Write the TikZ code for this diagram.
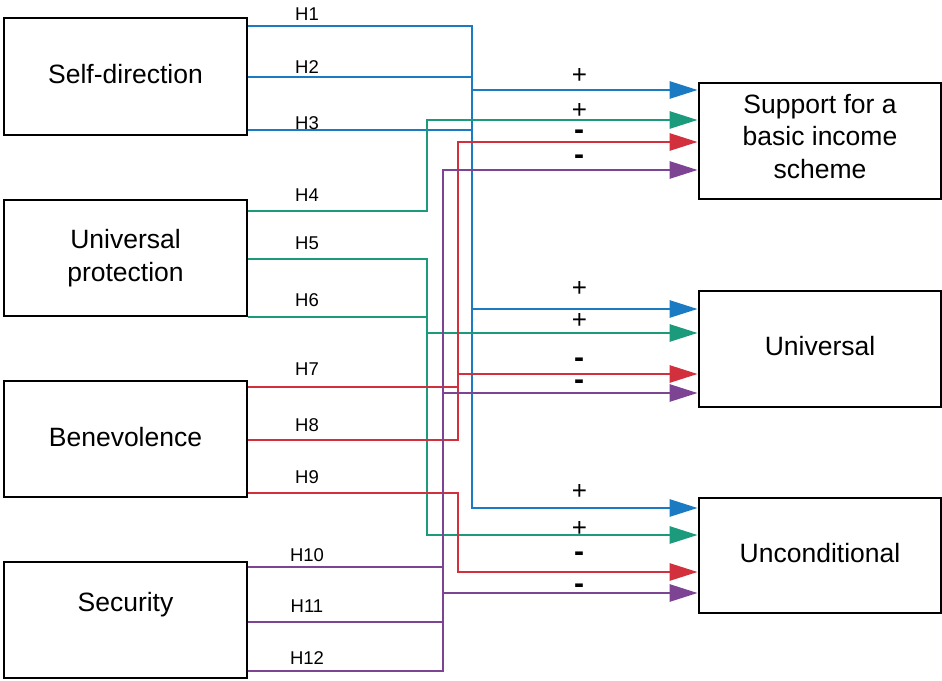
\documentclass[tikz,border=0pt]{standalone}
\usepackage{fontspec}
\setmainfont{Liberation Sans}
\usetikzlibrary{arrows.meta}
\definecolor{cblue}{HTML}{1A7AC2}
\definecolor{cgreen}{HTML}{1B9A7C}
\definecolor{cred}{HTML}{D2303C}
\definecolor{cpurple}{HTML}{7E4494}
\begin{document}
\begin{tikzpicture}[x=1pt,y=-1pt,
 box/.style={draw=black, line width=2.8pt, minimum width=243pt, minimum height=116pt, inner sep=0pt, align=center, font=\fontsize{26.5}{32.5}\selectfont},
 rbox/.style={box, minimum width=242pt},
 link/.style={line width=2.7pt},
 arr/.style={link, -{Triangle[length=28pt,width=17pt]}},
 hlab/.style={anchor=base, font=\fontsize{18.5}{20}\selectfont, inner sep=0pt},
 plab/.style={anchor=base, font=\fontsize{26}{28}\selectfont, inner sep=0pt},
 mlab/.style={anchor=base, font=\fontsize{30}{32}\selectfont\bfseries, inner sep=0pt}]
\useasboundingbox (0,0) rectangle (942,680);
\fill[white] (0,0) rectangle (942,680);

% boxes
\node[box, minimum height=117pt, text depth=5pt] (sd) at (125.5,76.5) {Self-direction};
\node[box] (up) at (125.5,258) {Universal\\protection};
\node[box, text depth=4pt] (be) at (125.5,439) {Benevolence};
\node[box, text depth=37pt] (se) at (125.5,620) {Security};
\node[rbox, text depth=10pt] (sup) at (820,141) {Support for a\\basic income\\scheme};
\node[rbox, text depth=6pt] (uni) at (820,349) {Universal};
\node[rbox, minimum height=115pt, text depth=5pt] (unc) at (820,555.5) {Unconditional};

% bus coordinates
\coordinate (b1) at (472,26);
\coordinate (b2) at (472,77);
\coordinate (b3) at (472,130);
\coordinate (ba) at (472,90);
\coordinate (bu) at (472,309);
\coordinate (bc) at (472,508);

\coordinate (g4) at (427,211);
\coordinate (gs) at (427,120);
\coordinate (g5) at (427,259);
\coordinate (g6) at (427,317);
\coordinate (gu) at (427,333);
\coordinate (gc) at (427,535);

\coordinate (r7) at (458,387);
\coordinate (r8) at (458,440);
\coordinate (rs) at (458,142);
\coordinate (ru) at (458,374);
\coordinate (r9) at (458,493);
\coordinate (rc) at (458,572);

\coordinate (p10) at (443,567);
\coordinate (p11) at (443,622);
\coordinate (p12) at (443,671);
\coordinate (ps) at (443,170);
\coordinate (pu) at (443,393);
\coordinate (pc) at (443,593);

% blue
\draw[arr,cblue] (sd.east |- b1) -- (b1) -- (bc) -- (bc -| unc.west);
\draw[link,cblue] (sd.east |- b2) -- (b2);
\draw[link,cblue] (sd.east |- b3) -- (b3);
\draw[arr,cblue] (ba) -- (ba -| sup.west);
\draw[arr,cblue] (bu) -- (bu -| uni.west);

% green
\draw[arr,cgreen] (up.east |- g4) -- (g4) -- (gs) -- (gs -| sup.west);
\draw[arr,cgreen] (up.east |- g5) -- (g5) -- (gc) -- (gc -| unc.west);
\draw[link,cgreen] (up.east |- g6) -- (g6);
\draw[arr,cgreen] (gu) -- (gu -| uni.west);

% red
\draw[arr,cred] (be.east |- r8) -- (r8) -- (rs) -- (rs -| sup.west);
\draw[link,cred] (be.east |- r7) -- (r7);
\draw[arr,cred] (ru) -- (ru -| uni.west);
\draw[arr,cred] (be.east |- r9) -- (r9) -- (rc) -- (rc -| unc.west);

% purple
\draw[arr,cpurple] (se.east |- p12) -- (p12) -- (ps) -- (ps -| sup.west);
\draw[link,cpurple] (se.east |- p10) -- (p10);
\draw[link,cpurple] (se.east |- p11) -- (p11);
\draw[arr,cpurple] (pu) -- (pu -| uni.west);
\draw[arr,cpurple] (pc) -- (pc -| unc.west);

% H labels
\node[hlab] (h1) at (307,20.7) {H1};
\node[hlab] (h2) at (307,73) {H2};
\node[hlab] (h3) at (307,129) {H3};
\node[hlab] (h4) at (307,201) {H4};
\node[hlab] (h5) at (307,249) {H5};
\node[hlab] (h6) at (307,306) {H6};
\node[hlab] (h7) at (307,375) {H7};
\node[hlab] (h8) at (307,431) {H8};
\node[hlab] (h9) at (307,483) {H9};
\node[hlab] (h10) at (307,561) {H10};
\node[hlab] (h11) at (307,612) {H11};
\node[hlab] (h12) at (307,664) {H12};

% sign labels
\node[plab] (s1) at (579.5,83) {+};
\node[plab] (s2) at (579.5,118) {+};
\node[mlab] (s3) at (579,139) {-};
\node[mlab] (s4) at (579,164.7) {-};
\node[plab] (u1) at (579.5,296.5) {+};
\node[plab] (u2) at (579.5,328.5) {+};
\node[mlab] (u3) at (579,367.3) {-};
\node[mlab] (u4) at (579,389) {-};
\node[plab] (c1) at (579.5,499.9) {+};
\node[plab] (c2) at (579.5,536.9) {+};
\node[mlab] (c3) at (579,561.3) {-};
\node[mlab] (c4) at (579,593) {-};
\end{tikzpicture}
\end{document}
